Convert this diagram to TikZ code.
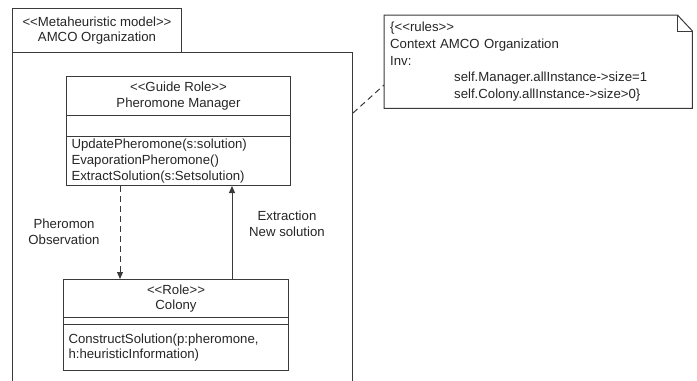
\documentclass[tikz,border=0pt]{standalone}
\usepackage{fontspec}
% a family of its own, so that << and >> stay as typed
\newfontfamily\umlfont{Liberation Sans}
\usetikzlibrary{arrows.meta}

\definecolor{umlline}{HTML}{3A3A3A}
\definecolor{umltext}{HTML}{262626}

\tikzset{
  umlbox/.style={draw=umlline, line width=1bp, anchor=north west, inner sep=0pt,
    text=umltext, font=\umlfont\fontsize{13.2bp}{15.6bp}\selectfont},
  centered/.style={align=center},
  ops/.style={align=left, text width=#1, inner xsep=5bp},
  flow/.style={draw=umlline, line width=1bp, -{Triangle[length=7bp,width=6bp]}},
  lbl/.style={text=umltext, align=center, inner sep=0pt, font=\umlfont\fontsize{13.2bp}{15.6bp}\selectfont},
  anchorline/.style={draw=umlline, line width=1bp, dash pattern=on 6bp off 4bp},
}

\begin{document}
\begin{tikzpicture}[x=1bp, y=-1bp]
  \clip (0,0) rectangle (697,380);
  \fill[white] (0,0) rectangle (697,380);

  % package: tab and body
  \node[umlbox, centered, minimum width=169bp, minimum height=44bp] (tab) at (12,8)
    {<<Metaheuristic model>>\\AMCO Organization};
  \node[umlbox, minimum width=340bp, minimum height=345bp] (pkg) at (12,52) {};

  % class Pheromone Manager
  \node[umlbox, centered, minimum width=224bp, minimum height=39bp] (mgrname) at (66,76)
    {<<Guide Role>>\\Pheromone Manager};
  \node[umlbox, minimum width=224bp, minimum height=21bp] (mgrattr) at (66,115) {};
  \node[umlbox, ops=214bp, minimum height=49bp] (mgrops) at (66,136)
    {UpdatePheromone(s:solution)\\EvaporationPheromone()\\ExtractSolution(s:Setsolution)};

  % class Colony
  \node[umlbox, centered, minimum width=225bp, minimum height=38bp] (colname) at (63,279)
    {<<Role>>\\Colony};
  \node[umlbox, minimum width=225bp, minimum height=7bp] (colattr) at (63,317) {};
  \node[umlbox, ops=215bp, minimum height=46bp] (colops) at (63,324)
    {ConstructSolution(p:pheromone,\\h:heuristicInformation)};

  % connectors between the classes
  \coordinate (obsx) at (120,0);
  \coordinate (extx) at (232,0);
  \draw[flow, dash pattern=on 6bp off 4bp] (mgrops.south -| obsx) -- (colname.north -| obsx);
  \draw[flow] (colname.north -| extx) -- (mgrops.south -| extx);

  \node[lbl] (obslbl) at (64,232) {Pheromon\\Observation};
  \node[lbl] (extlbl) at (287,224) {Extraction\\New solution};

  % constraint note with folded corner
  \node[anchor=north west, minimum width=308bp, minimum height=93bp, inner xsep=6bp,
        text width=296bp, align=left, text=umltext,
        font=\umlfont\fontsize{13.2bp}{16.8bp}\selectfont] (note) at (384,15)
    {\{<<rules>>\\Context AMCO Organization\\Inv:\\
     \hspace*{64bp}self.Manager.allInstance->size=1\\
     \hspace*{64bp}self.Colony.allInstance->size>0\}};
  \draw[umlline, line width=1bp, line join=miter]
    (note.north west) -- ([xshift=-15bp]note.north east)
    -- ([yshift=-16bp]note.north east) -- (note.south east)
    -- (note.south west) -- cycle;
  \draw[umlline, line width=1bp]
    ([xshift=-15bp]note.north east) -- ([xshift=-15bp,yshift=-16bp]note.north east)
    -- ([yshift=-16bp]note.north east);

  % anchor from package to note
  \coordinate (pkgpt) at (352,113);
  \coordinate (notept) at (384,85);
  \draw[anchorline] (pkg.east |- pkgpt) -- (note.west |- notept);
\end{tikzpicture}
\end{document}
